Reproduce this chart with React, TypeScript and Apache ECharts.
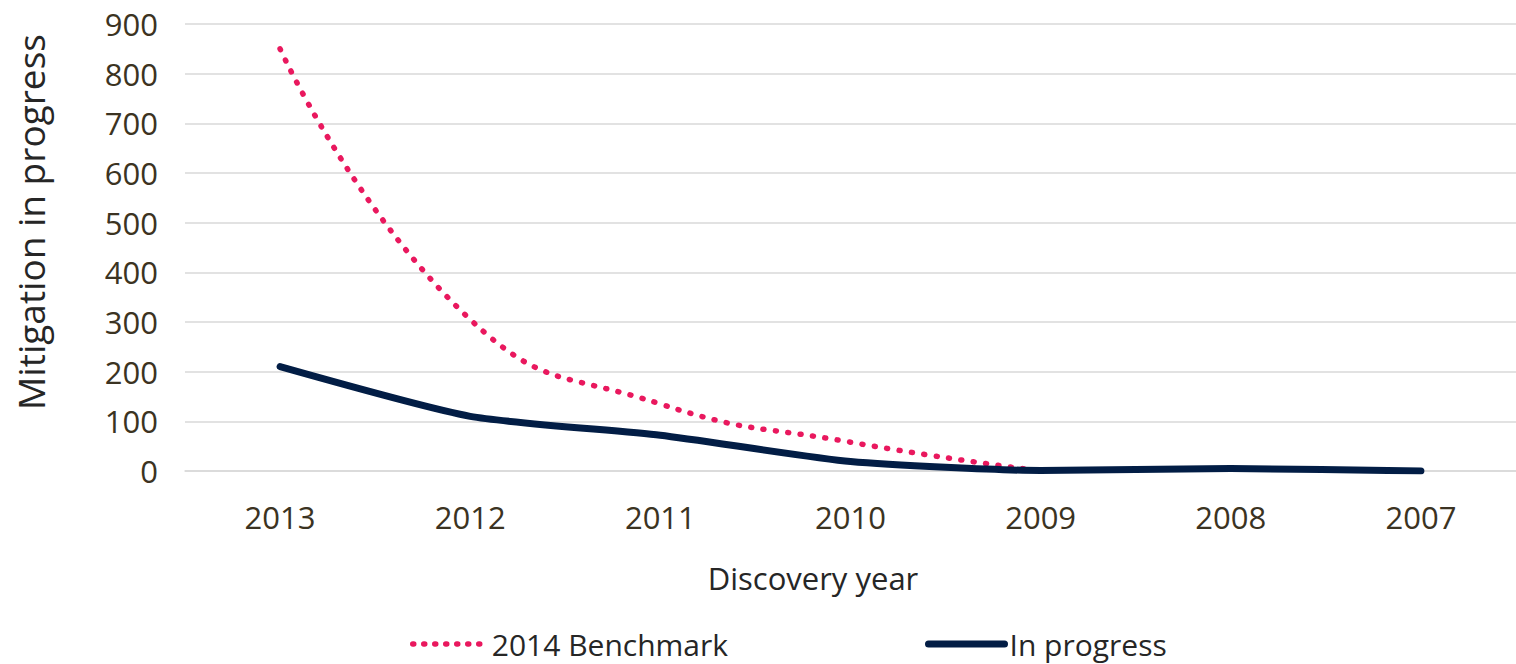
import React, { useEffect, useRef } from "react";
import * as echarts from "echarts";

const years = ["2013", "2012", "2011", "2010", "2009", "2008", "2007"];
const benchmark = [850, 305, 135, 58, 0, null, null];
const inProgress = [210, 110, 72, 19, 1, 5, 0];
const yTitle = "Mitigation in progress";
const xTitle = "Discovery year";

const PINK = "#E9185E";
const NAVY = "#021D45";
const TICK = "#3B3322";
const FONT = "Open Sans";

export default function App() {
  const ref = useRef<HTMLDivElement>(null);
  useEffect(() => {
    if (!ref.current) return;
    const chart = echarts.init(ref.current, null, { renderer: "svg" });
    const dotStyle = { color: PINK, width: 5.5, type: [1, 11.5], cap: "round" };
    const solidStyle = { color: NAVY, width: 7, cap: "round", join: "round" };
    chart.setOption({
      animation: false,
      backgroundColor: "#ffffff",
      grid: { left: 185, top: 24, width: 1346, height: 447, containLabel: false },
      xAxis: {
        type: "category",
        data: years,
        boundaryGap: true,
        axisLine: { show: true, lineStyle: { color: "#D9D9D9", width: 1.5 } },
        axisTick: { show: false },
        axisLabel: { fontSize: 31, color: TICK, fontFamily: FONT, margin: 30 },
      },
      yAxis: {
        type: "value",
        min: 0,
        max: 900,
        interval: 100,
        axisLine: { show: false },
        axisTick: { show: false },
        splitLine: { lineStyle: { color: "#D9D9D9", width: 1.5 } },
        axisLabel: { fontSize: 31, color: TICK, fontFamily: FONT, margin: 27 },
      },
      legend: [
        {
          left: 405,
          top: 624,
          data: ["2014 Benchmark"],
          itemWidth: 74,
          itemHeight: 30,
          itemGap: 0,
          itemStyle: { opacity: 0 },
          lineStyle: { color: PINK, width: 5.5, type: [1, 10], cap: "round" },
          textStyle: { fontSize: 30, color: "#262626", fontFamily: FONT },
        },
        {
          left: 920,
          top: 624,
          data: ["In progress"],
          itemWidth: 76,
          itemHeight: 30,
          itemGap: 0,
          itemStyle: { opacity: 0 },
          lineStyle: { color: NAVY, width: 7, cap: "round" },
          textStyle: { fontSize: 30, color: "#262626", fontFamily: FONT },
        },
      ],
      graphic: [
        {
          type: "text",
          x: 30,
          y: 222,
          rotation: Math.PI / 2,
          style: {
            text: yTitle,
            fontSize: 37,
            fontFamily: FONT,
            fill: "#262626",
            align: "center",
            verticalAlign: "middle",
          },
        },
        {
          type: "text",
          x: 813,
          y: 578,
          style: {
            text: xTitle,
            fontSize: 31,
            fontFamily: FONT,
            fill: "#262626",
            align: "center",
            verticalAlign: "middle",
          },
        },
      ],
      series: [
        {
          name: "2014 Benchmark",
          type: "line",
          data: benchmark,
          smooth: 0.5,
          symbol: "none",
          connectNulls: false,
          lineStyle: dotStyle,
          itemStyle: { color: PINK },
        },
        {
          name: "In progress",
          type: "line",
          data: inProgress,
          smooth: 0.2,
          symbol: "none",
          lineStyle: solidStyle,
          itemStyle: { color: NAVY },
        },
      ],
    });
    return () => chart.dispose();
  }, []);
  return (
    <div
      ref={ref}
      style={{ position: "fixed", left: 0, top: 0, width: 1516, height: 664 }}
    />
  );
}
